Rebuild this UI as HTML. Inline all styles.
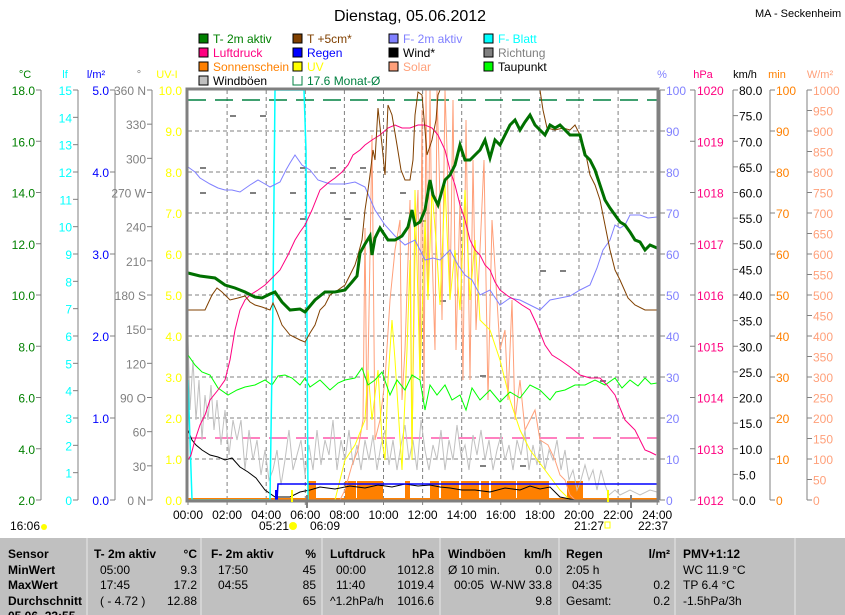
<!DOCTYPE html>
<html><head><meta charset="utf-8"><style>
body{margin:0;background:#fff;width:845px;height:615px;overflow:hidden;font-family:"Liberation Sans",sans-serif}
svg{position:absolute;left:0;top:0}
</style></head><body>
<svg width="845" height="615" xmlns="http://www.w3.org/2000/svg" font-family="Liberation Sans, sans-serif" font-size="11">
<text x="410" y="21" font-size="16" text-anchor="middle">Dienstag, 05.06.2012</text>
<text x="755" y="17" font-size="11">MA - Seckenheim</text>
<!-- legend -->
<g font-size="12">
<rect x="199" y="34" width="9" height="9" fill="#008000" stroke="#000"/><text x="213" y="43" fill="#008000">T- 2m aktiv</text>
<rect x="199" y="48" width="9" height="9" fill="#ff0080" stroke="#000"/><text x="213" y="57" fill="#ff0080">Luftdruck</text>
<rect x="199" y="62" width="9" height="9" fill="#ff8000" stroke="#000"/><text x="213" y="71" fill="#ff8000">Sonnenschein</text>
<rect x="199" y="76" width="9" height="9" fill="#c0c0c0" stroke="#000"/><text x="213" y="85" fill="#000">Windböen</text>
<rect x="293" y="34" width="9" height="9" fill="#804000" stroke="#000"/><text x="307" y="43" fill="#804000">T +5cm*</text>
<rect x="293" y="48" width="9" height="9" fill="#0000ff" stroke="#000"/><text x="307" y="57" fill="#0000ff">Regen</text>
<rect x="293" y="62" width="9" height="9" fill="#ffff00" stroke="#000"/><text x="307" y="71" fill="#ffff00">UV</text>
<path d="M293 76 V85 H302 V76" fill="none" stroke="#008040"/><text x="307" y="85" fill="#008040">17.6 Monat-Ø</text>
<rect x="389" y="34" width="9" height="9" fill="#8080ff" stroke="#000"/><text x="403" y="43" fill="#8080ff">F- 2m aktiv</text>
<rect x="389" y="48" width="9" height="9" fill="#000" stroke="#000"/><text x="403" y="57" fill="#000">Wind*</text>
<rect x="389" y="62" width="9" height="9" fill="#ffa07a" stroke="#000"/><text x="403" y="71" fill="#ffa07a">Solar</text>
<rect x="484" y="34" width="9" height="9" fill="#00ffff" stroke="#000"/><text x="498" y="43" fill="#00ffff">F- Blatt</text>
<rect x="484" y="48" width="9" height="9" fill="#808080" stroke="#000"/><text x="498" y="57" fill="#808080">Richtung</text>
<rect x="484" y="62" width="9" height="9" fill="#00ff00" stroke="#000"/><text x="498" y="71" fill="#000">Taupunkt</text>
</g>
<!-- unit labels -->
<g font-size="11">
<text x="25" y="78" fill="#008000" text-anchor="middle">°C</text>
<text x="65" y="78" fill="#00ffff" text-anchor="middle">lf</text>
<text x="96" y="78" fill="#0000ff" text-anchor="middle">l/m²</text>
<text x="139" y="78" fill="#808080" text-anchor="middle">°</text>
<text x="167" y="78" fill="#ffff00" text-anchor="middle">UV-I</text>
<text x="662" y="78" fill="#8080ff" text-anchor="middle">%</text>
<text x="703" y="78" fill="#ff0080" text-anchor="middle">hPa</text>
<text x="745" y="78" fill="#000" text-anchor="middle">km/h</text>
<text x="777" y="78" fill="#ff8000" text-anchor="middle">min</text>
<text x="820" y="78" fill="#ffa07a" text-anchor="middle">W/m²</text>
</g>
<g id="axes" stroke="#808080"></g>
<g id="axlabels" font-size="12"></g>
<!-- grid -->
<g stroke="#808080" stroke-dasharray="4,3" id="grid"></g>
<line x1="188" y1="100" x2="657" y2="100" stroke="#008040" stroke-width="1.5" stroke-dasharray="18,9"/>
<line x1="188" y1="438" x2="657" y2="438" stroke="#ff0080" stroke-dasharray="18,9"/>
<g fill="#808080" id="dir"></g>
<!-- sunshine bars -->
<g fill="#ff8000">
<rect x="308" y="481" width="8" height="19"/><rect x="345" y="481" width="11" height="19"/><rect x="357" y="481" width="26" height="19"/>
<rect x="405" y="481" width="5" height="19"/><rect x="430" y="481" width="9" height="19"/><rect x="441" y="481" width="18" height="19"/>
<rect x="461" y="481" width="18" height="19"/><rect x="481" y="481" width="8" height="19"/><rect x="491" y="481" width="25" height="19"/>
<rect x="517" y="481" width="32" height="19"/><rect x="567" y="481" width="16" height="19"/><rect x="188" y="498" width="469" height="2"/>
</g>
<polyline fill="none" stroke="#c0c0c0" points="188,335 190,410 193,360 196,420 199,380 202,440 205,395 208,420 211,385 214,430 217,400 221,445 225,410 229,455 233,420 237,440 241,420 245,470 249,430 253,460 257,440 261,475 265,450 269,480 273,470 277,450 281,485 285,460 289,430 293,470 297,455 301,440 305,475 309,445 313,470 317,430 321,465 325,440 329,455 333,420 337,470 341,440 345,460 349,430 353,465 357,445 361,470 365,440 369,460 373,435 377,470 381,445 385,430 389,465 393,440 397,470 401,445 405,425 409,460 413,440 417,470 421,420 425,450 429,470 433,445 437,460 441,430 445,470 449,440 453,460 457,425 461,455 465,445 469,470 473,435 477,455 481,430 485,460 489,440 493,470 497,450 501,435 505,460 509,445 513,470 517,440 521,455 525,430 529,470 533,445 537,465 541,440 545,470 549,450 553,460 557,440 561,470 565,450 569,480 573,470 577,490 581,480 585,465 589,480 593,470 597,490 601,470 605,485 609,495 615,490 620,495 630,490 640,495 650,490 657,492"/>
<polyline fill="none" stroke="#ffa07a" points="188,500 340,500 345,490 352,465 358,450 363,420 365,228 367,430 372,135 375,440 380,420 385,380 390,300 395,250 400,220 402,400 405,350 410,200 412,450 415,250 418,190 420,380 422,110 424,400 426,90 428,300 430,90 432,250 435,350 437,90 440,200 442,320 445,90 447,150 450,300 453,100 456,350 460,200 463,380 466,120 470,380 473,160 476,330 480,250 484,160 488,400 492,220 497,300 500,350 505,330 508,400 512,300 515,420 520,380 525,430 530,420 535,410 540,440 548,445 555,460 560,475 565,480 570,495 575,500 657,500"/>
<polyline fill="none" stroke="#ffff00" points="318,500 335,500 345,460 355,445 365,420 368,370 372,420 378,370 382,440 385,460 388,380 392,320 395,360 402,470 407,350 410,260 412,460 415,190 418,300 420,380 425,220 428,300 432,190 436,240 440,305 445,185 450,300 455,250 460,310 465,190 470,300 475,240 480,320 490,330 500,360 510,400 520,430 530,450 545,470 560,490 570,500"/>
<polyline fill="none" stroke="#00ff00" points="188,355 195,365 202,372 210,375 218,388 228,395 237,390 245,387 255,385 265,380 272,385 278,376 285,375 292,378 300,385 305,378 310,387 320,380 330,390 338,383 345,380 355,378 362,368 368,385 375,380 382,372 390,395 397,380 405,390 412,375 420,380 425,410 430,385 437,395 445,385 452,400 460,395 466,410 472,388 480,400 490,390 500,402 510,392 520,398 530,385 540,390 550,400 556,392 565,390 575,385 585,385 595,380 605,385 615,378 622,388 630,380 638,386 645,378 651,384 657,383"/>
<polyline fill="none" stroke="#000" points="188,430 192,440 196,445 202,450 210,455 218,457 225,460 232,458 240,467 248,472 256,478 265,490 275,497 290,497 300,492 310,490 320,487 335,489 350,486 365,488 378,485 392,487 405,484 418,486 430,485 440,487 450,488 462,490 475,490 490,492 505,488 520,490 530,486 540,489 550,487 560,497 575,500 657,500"/>
<polyline fill="none" stroke="#0000ff" stroke-width="1.5" points="277,500 278,484 657,484"/>
<rect x="275" y="490" width="3" height="10" fill="#0000ff"/>
<polyline fill="none" stroke="#00ffff" stroke-width="1.5" points="188,380 190,440 192,500 270,500 273,300 275,90 304,90 306,150 308,500"/>
<polyline fill="none" stroke="#8080ff" points="188,167 195,172 200,178 210,184 218,188 225,190 232,190 240,192 250,185 258,180 265,184 270,187 280,182 286,170 290,163 295,155 302,165 310,170 318,180 330,184 345,184 355,182 365,187 375,210 385,225 395,236 405,245 415,240 425,260 433,258 440,260 450,250 458,265 465,275 472,280 480,295 490,290 500,305 510,298 520,300 530,305 540,310 550,300 560,298 570,296 580,290 590,285 597,268 603,250 610,240 615,225 620,228 625,225 630,215 640,215 648,218 657,217"/>
<polyline fill="none" stroke="#ff0080" points="188,460 191,455 195,440 200,425 205,415 210,400 218,390 225,380 230,360 235,330 240,310 245,300 250,295 258,290 265,285 272,278 280,270 288,255 295,240 300,232 305,225 312,210 320,190 328,183 335,178 342,172 348,165 353,155 360,150 365,145 372,140 380,135 388,128 395,125 402,128 410,128 418,125 425,125 432,128 438,135 445,150 450,170 455,185 460,205 465,220 470,240 475,250 480,255 485,265 490,270 495,282 500,290 508,296 515,300 522,305 530,310 537,325 545,345 552,355 560,360 570,367 580,375 590,378 600,378 607,385 615,395 620,408 625,420 630,425 635,430 640,440 645,450 650,452 656,455"/>
<polyline fill="none" stroke="#804000" points="188,310 205,310 212,295 217,288 222,292 230,300 238,298 245,296 250,302 255,305 262,307 270,310 273,303 277,312 282,325 290,335 300,340 305,342 310,333 315,325 320,310 325,305 330,295 338,290 345,285 350,275 355,265 358,255 362,240 365,210 368,190 370,175 373,150 375,160 378,108 382,145 385,175 388,105 392,115 397,145 401,170 405,180 410,180 413,160 415,115 418,92 422,95 425,130 427,155 432,140 436,120 438,95 440,90 540,90 543,110 547,128 555,130 563,128 570,130 575,125 580,135 585,150 590,175 595,185 600,200 605,225 610,250 615,270 620,280 628,298 635,305 645,310 657,310"/>
<polyline fill="none" stroke="#007000" stroke-width="3" points="188,273 200,276 215,278 225,285 235,288 245,292 255,297 262,298 270,294 275,292 282,302 290,310 300,309 305,312 315,300 325,292 335,292 345,290 352,282 357,276 360,253 365,244 370,236 372,255 375,238 380,228 388,240 395,240 402,236 408,227 412,210 415,225 420,222 425,210 430,180 433,195 438,205 445,180 450,175 455,165 460,145 465,160 470,160 475,155 480,150 485,140 490,158 495,140 500,145 505,135 510,125 515,120 520,130 525,122 530,115 535,125 540,130 545,135 550,125 555,128 560,125 565,130 570,135 580,135 585,155 590,160 595,170 600,185 605,200 610,208 615,215 620,222 625,225 630,232 635,240 640,242 645,250 650,245 657,248"/>
<rect x="187" y="89" width="471" height="412" fill="none" stroke="#808080" stroke-width="3"/>
<!-- x labels -->
<g font-size="12" text-anchor="middle" id="xl"></g>
<line x1="292" y1="490" x2="292" y2="502" stroke="#ffff00" stroke-width="2"/>
<line x1="608" y1="490" x2="608" y2="502" stroke="#ffff00" stroke-width="2"/>
<line x1="307" y1="495" x2="307" y2="508" stroke="#808080" stroke-width="2"/>
<line x1="631" y1="495" x2="631" y2="508" stroke="#808080" stroke-width="2"/>
<g font-size="12">
<text x="10" y="530">16:06</text><circle cx="44" cy="527" r="3" fill="#ffff00"/>
<text x="259" y="530">05:21</text><circle cx="293" cy="526" r="4" fill="#ffff00"/>
<text x="310" y="530">06:09</text>
<text x="574" y="530">21:27</text><rect x="605" y="522" width="5" height="6" fill="none" stroke="#ffff00"/>
<text x="638" y="530">22:37</text>
</g>
<!-- table -->
<rect x="0" y="538" width="845" height="77" fill="#c0c0c0"/>
<g stroke="#e8e8e8"><line x1="87" y1="538" x2="87" y2="615"/><line x1="201" y1="538" x2="201" y2="615"/><line x1="322" y1="538" x2="322" y2="615"/><line x1="440" y1="538" x2="440" y2="615"/><line x1="559" y1="538" x2="559" y2="615"/><line x1="675" y1="538" x2="675" y2="615"/><line x1="795" y1="538" x2="795" y2="615"/></g>
<g font-size="12" font-weight="bold">
<text x="8" y="558">Sensor</text><text x="8" y="574">MinWert</text><text x="8" y="589">MaxWert</text><text x="8" y="605">Durchschnitt</text><text x="8" y="620">05.06. 23:55</text>
<text x="94" y="558">T- 2m aktiv</text><text x="197" y="558" text-anchor="end">°C</text>
<text x="211" y="558">F- 2m aktiv</text><text x="316" y="558" text-anchor="end">%</text>
<text x="330" y="558">Luftdruck</text><text x="434" y="558" text-anchor="end">hPa</text>
<text x="448" y="558">Windböen</text><text x="552" y="558" text-anchor="end">km/h</text>
<text x="566" y="558">Regen</text><text x="670" y="558" text-anchor="end">l/m²</text>
<text x="683" y="558">PMV+1:12</text>
</g>
<g font-size="12">
<text x="100" y="574">05:00</text><text x="197" y="574" text-anchor="end">9.3</text>
<text x="100" y="589">17:45</text><text x="197" y="589" text-anchor="end">17.2</text>
<text x="100" y="605">( - 4.72 )</text><text x="197" y="605" text-anchor="end">12.88</text>
<text x="218" y="574">17:50</text><text x="316" y="574" text-anchor="end">45</text>
<text x="218" y="589">04:55</text><text x="316" y="589" text-anchor="end">85</text>
<text x="316" y="605" text-anchor="end">65</text>
<text x="336" y="574">00:00</text><text x="434" y="574" text-anchor="end">1012.8</text>
<text x="336" y="589">11:40</text><text x="434" y="589" text-anchor="end">1019.4</text>
<text x="330" y="605">^1.2hPa/h</text><text x="434" y="605" text-anchor="end">1016.6</text>
<text x="448" y="574">Ø 10 min.</text><text x="552" y="574" text-anchor="end">0.0</text>
<text x="454" y="589">00:05</text><text x="552" y="589" text-anchor="end">W-NW 33.8</text>
<text x="552" y="605" text-anchor="end">9.8</text>
<text x="566" y="574">2:05 h</text>
<text x="572" y="589">04:35</text><text x="670" y="589" text-anchor="end">0.2</text>
<text x="566" y="605">Gesamt:</text><text x="670" y="605" text-anchor="end">0.2</text>
<text x="683" y="574">WC 11.9 °C</text><text x="683" y="589">TP 6.4 °C</text><text x="683" y="605">-1.5hPa/3h</text>
</g>
</svg>
<script>
var ns="http://www.w3.org/2000/svg";
function el(p,t,a,txt){var e=document.createElementNS(ns,t);for(var k in a)e.setAttribute(k,a[k]);if(txt!=null)e.textContent=txt;document.getElementById(p).appendChild(e);}
// grid
for(var k=1;k<12;k++){var x=188+k*39.1;el("grid","line",{x1:x,y1:90,x2:x,y2:500});}
for(var k=1;k<10;k++){var y=90+k*41;el("grid","line",{x1:188,y1:y,x2:657,y2:y});}
// x labels
for(var k=0;k<=12;k++){var x=188+k*39.1;var h=(k*2<10?"0":"")+(k*2)+":00";el("xl","text",{x:x,y:519},h);el("axes","line",{x1:x,y1:500,x2:x,y2:505});}
function axis(lx,side,n,vals,color,minor){
 el("axes","line",{x1:lx,y1:90,x2:lx,y2:500});
 for(var i=0;i<n;i++){var y=90+i*410/(n-1);
  var t=side<0?lx-5:lx+5;el("axes","line",{x1:lx,y1:y,x2:t,y2:y});
  var v=vals(i);if(v!==null)el("axlabels","text",{x:side<0?lx-6:lx+6,y:y+5,fill:color,"text-anchor":side<0?"end":"start"},v);}
}
axis(41,-1,9,function(i){return (18-2*i).toFixed(1)},"#008000");
axis(78,-1,16,function(i){return String(15-i)},"#00ffff");
axis(115,-1,6,function(i){return (5-i).toFixed(1)},"#0000ff");
var deg=["360 N","330","300","270 W","240","210","180 S","150","120","90  O","60","30","0   N"];
axis(152,-1,13,function(i){return deg[i]},"#808080");
(function(){for(var i=0;i<11;i++){var y=90+i*41;el("axlabels","text",{x:182,y:y+5,fill:"#ffff00","text-anchor":"end"},(10-i).toFixed(1));}})();
axis(660,1,11,function(i){return String(100-10*i)},"#8080ff");
axis(695,-1,9,null===0?0:function(i){return String(1020-i)},"#ff0080");
// hPa labels to right
axis(733,1,17,function(i){return (80-5*i).toFixed(1)},"#000");
axis(770,1,11,function(i){return String(100-10*i)},"#ff8000");
axis(807,1,21,function(i){return String(1000-50*i)},"#ffa07a");
// direction dots
var d=[[230,115],[260,115],[200,167],[300,167],[330,167],[360,167],[200,192],[250,192],[290,192],[330,192],[350,192],[400,192],[300,218],[345,218],[420,220],[540,270],[560,270],[440,300],[480,375],[600,380],[480,465],[520,465]];
d.forEach(function(p){el("dir","rect",{x:p[0],y:p[1],width:6,height:2});});
</script>
<script>
// move hPa labels to right side of its axis
(function(){var g=document.getElementById("axlabels");var ts=g.querySelectorAll("text");ts.forEach(function(t){if(t.getAttribute("fill")=="#ff0080"){t.setAttribute("x",697);t.setAttribute("text-anchor","start");}});
var ls=document.getElementById("axes").querySelectorAll("line");ls.forEach(function(l){if(l.getAttribute("x1")=="695"&&l.getAttribute("x2")=="690"){l.setAttribute("x2",690);}});})();
</script>
</body></html>
